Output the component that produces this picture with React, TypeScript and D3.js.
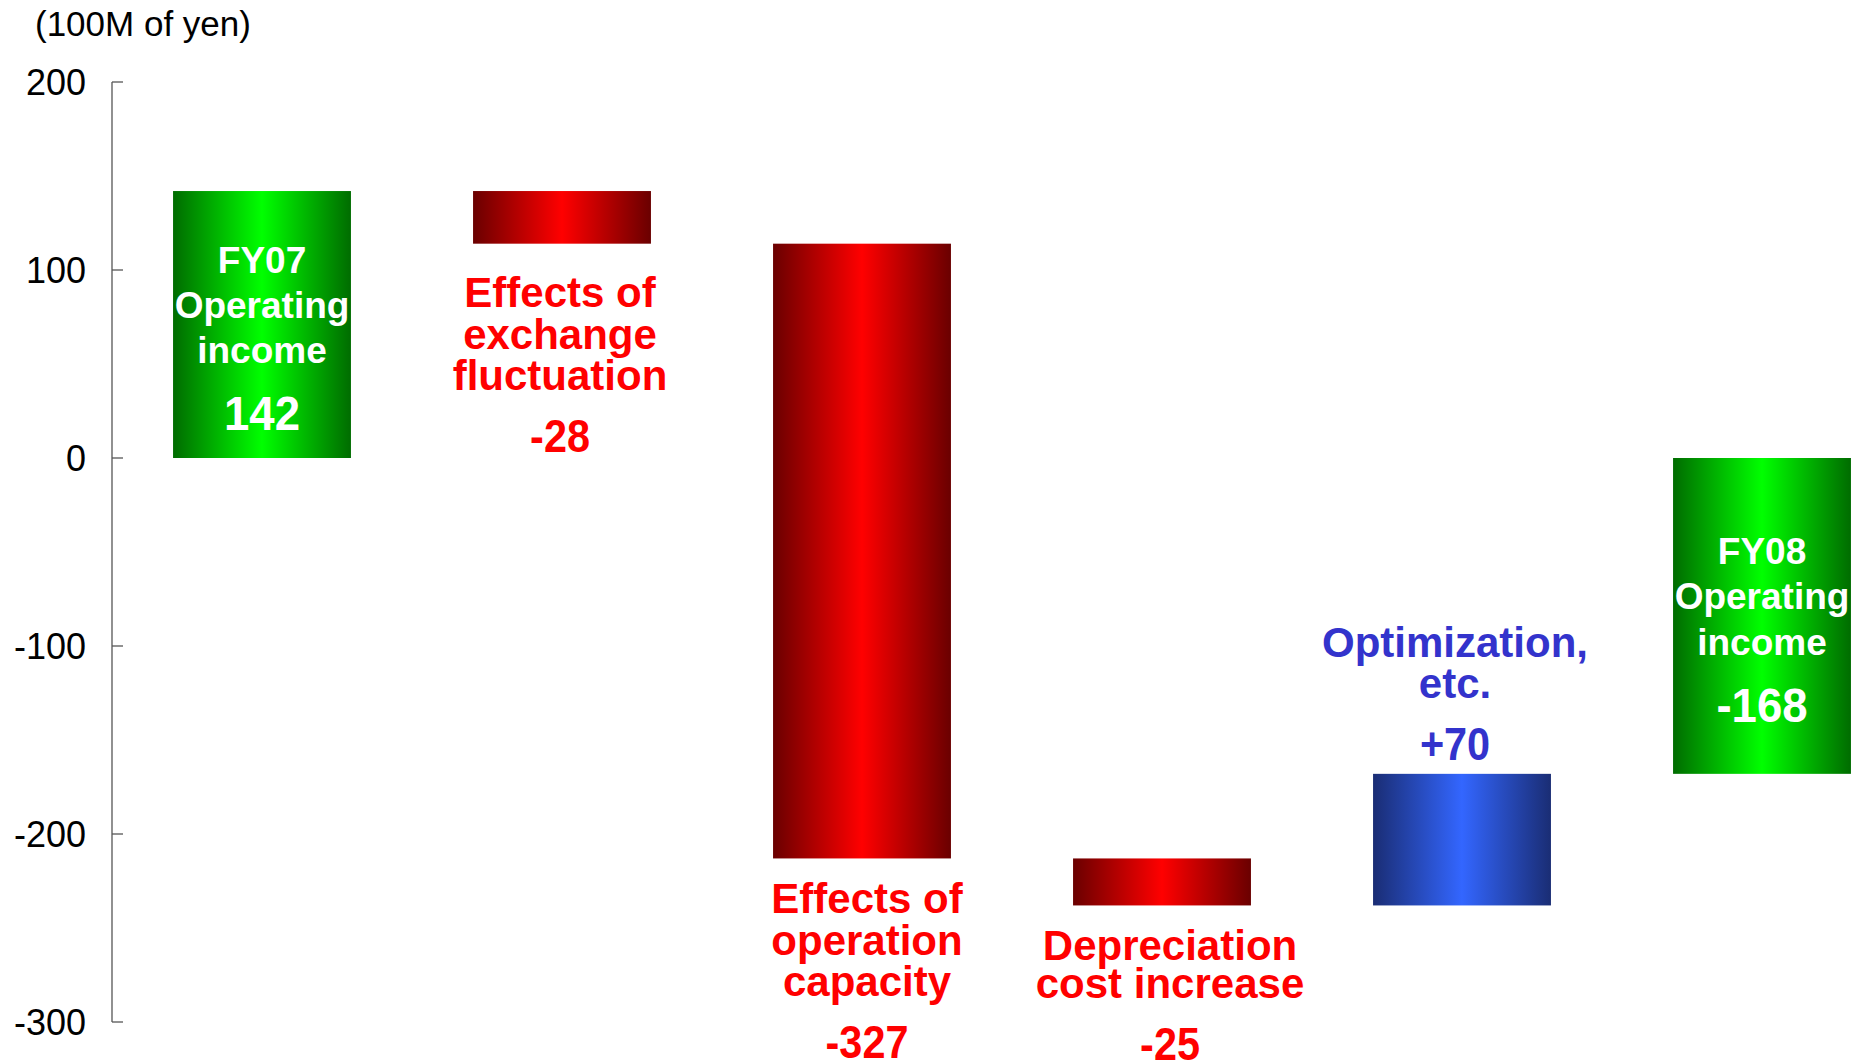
import React from "react";
import * as d3 from "d3";

// Operating income bridge, FY07 -> FY08 (100M of yen)
const categories = [
  "FY07 Operating income",
  "Effects of exchange fluctuation",
  "Effects of operation capacity",
  "Depreciation cost increase",
  "Optimization, etc.",
  "FY08 Operating income",
];
const labelLines = [
  ["FY07", "Operating", "income"],
  ["Effects of", "exchange", "fluctuation"],
  ["Effects of", "operation", "capacity"],
  ["Depreciation", "cost increase"],
  ["Optimization,", "etc."],
  ["FY08", "Operating", "income"],
];
const values = [142, -28, -327, -25, 70, -168];
const kinds = ["total", "delta", "delta", "delta", "delta", "total"];
const yTicks = [-300, -200, -100, 0, 100, 200];
const unitLabel = "(100M of yen)";

const W = 1861;
const H = 1062;
const FONT = "'Liberation Sans', Arial, Helvetica, sans-serif";

type Seg = { lo: number; hi: number; kind: string; value: number };

function buildSegments(): Seg[] {
  let running = 0;
  return values.map((v, i) => {
    if (kinds[i] === "total") {
      running = v;
      return { lo: Math.min(0, v), hi: Math.max(0, v), kind: "total", value: v };
    }
    const start = running;
    const end = running + v;
    running = end;
    return { lo: Math.min(start, end), hi: Math.max(start, end), kind: v < 0 ? "down" : "up", value: v };
  });
}

function fmtValue(v: number, kind: string) {
  if (kind === "total") return String(v);
  return v > 0 ? `+${v}` : String(v);
}

function Label(props: {
  x: number;
  y: number;
  text: string;
  size: number;
  sx?: number;
  fill: string;
  weight?: string | number;
  anchor?: string;
}) {
  const { x, y, text, size, sx = 1, fill, weight = "bold", anchor = "middle" } = props;
  return (
    <text
      transform={`translate(${x},${y}) scale(${sx},1)`}
      textAnchor={anchor as any}
      dy="0.35em"
      fontSize={size}
      fontWeight={weight}
      fill={fill}
      fontFamily={FONT}
    >
      {text}
    </text>
  );
}

export default function App() {
  const segs = buildSegments();

  const x = d3
    .scaleBand<string>()
    .domain(categories)
    .range([112, 1912])
    .paddingInner(0.407)
    .paddingOuter(0.2035);

  const y = d3.scaleLinear().domain([-300, 200]).range([1022, 82]);

  const axisX = 112;
  const fills: Record<string, string> = { total: "url(#gGreen)", down: "url(#gRed)", up: "url(#gBlue)" };
  const textColor: Record<string, string> = { down: "#ff0000", up: "#3333cc" };

  // spacing tweaks for the text blocks beside each bar
  const belowGap: Record<number, number> = { 1: 49, 2: 40, 3: 40 };
  const belowStep: Record<number, number> = { 1: 41.5, 2: 41.5, 3: 38 };
  const labelDx: Record<number, number> = { 1: -2, 2: 5, 3: 8, 4: -7 };

  return (
    <div style={{ position: "absolute", left: 0, top: 0 }}>
      <svg width={W} height={H} viewBox={`0 0 ${W} ${H}`} style={{ display: "block", background: "#fff" }}>
        <defs>
          <linearGradient id="gGreen" x1="0" x2="1" y1="0" y2="0">
            <stop offset="0" stopColor="#006c00" />
            <stop offset="0.5" stopColor="#00ff00" />
            <stop offset="1" stopColor="#006c00" />
          </linearGradient>
          <linearGradient id="gRed" x1="0" x2="1" y1="0" y2="0">
            <stop offset="0" stopColor="#6a0000" />
            <stop offset="0.5" stopColor="#ff0000" />
            <stop offset="1" stopColor="#6a0000" />
          </linearGradient>
          <linearGradient id="gBlue" x1="0" x2="1" y1="0" y2="0">
            <stop offset="0" stopColor="#1a2d74" />
            <stop offset="0.5" stopColor="#3366ff" />
            <stop offset="1" stopColor="#1a2d74" />
          </linearGradient>
        </defs>

        {/* unit caption */}
        <text x={35} y={36} fontSize={35} fontFamily={FONT} fill="#000">
          {unitLabel}
        </text>

        {/* y axis */}
        <line x1={axisX} x2={axisX} y1={y(200)} y2={y(-300)} stroke="#555" strokeWidth={1.3} />
        {yTicks.map((t) => (
          <g key={t}>
            <line x1={axisX} x2={axisX + 11} y1={y(t)} y2={y(t)} stroke="#555" strokeWidth={1.3} />
            <Label x={86} y={y(t)} text={String(t)} size={36} sx={1} fill="#000" weight="normal" anchor="end" />
          </g>
        ))}

        {/* bars */}
        {segs.map((s, i) => {
          const x0 = x(categories[i])!;
          return (
            <rect
              key={categories[i]}
              x={x0}
              y={y(s.hi)}
              width={x.bandwidth()}
              height={y(s.lo) - y(s.hi)}
              fill={fills[s.kind]}
            />
          );
        })}

        {/* labels */}
        {segs.map((s, i) => {
          const cx = x(categories[i])! + x.bandwidth() / 2 + (labelDx[i] || 0);
          const lines = labelLines[i];
          const valText = fmtValue(s.value, s.kind);
          const out: JSX.Element[] = [];
          if (s.kind === "total") {
            const mid = (y(s.hi) + y(s.lo)) / 2;
            const first = mid + 12 - 76.5;
            lines.forEach((ln, k) => {
              out.push(<Label key={`t${k}`} x={cx} y={first + k * 45.1} text={ln} size={37} fill="#fff" />);
            });
            out.push(<Label key="v" x={cx} y={first + 153} text={valText} size={49} sx={0.93} fill="#fff" />);
          } else if (s.kind === "down") {
            const first = y(s.lo) + belowGap[i];
            const step = belowStep[i];
            lines.forEach((ln, k) => {
              out.push(<Label key={`t${k}`} x={cx} y={first + k * step} text={ln} size={42} fill={textColor.down} />);
            });
            const last = first + (lines.length - 1) * step;
            out.push(<Label key="v" x={cx} y={last + 60.5} text={valText} size={46} sx={0.9} fill={textColor.down} />);
          } else {
            const vy = y(s.hi) - 30;
            out.push(<Label key="v" x={cx} y={vy} text={valText} size={46} sx={0.9} fill={textColor.up} />);
            const n = lines.length;
            lines.forEach((ln, k) => {
              out.push(
                <Label key={`t${k}`} x={cx} y={vy - 60.3 - (n - 1 - k) * 41.7} text={ln} size={42} fill={textColor.up} />
              );
            });
          }
          return <g key={`lab${i}`}>{out}</g>;
        })}
      </svg>
    </div>
  );
}
